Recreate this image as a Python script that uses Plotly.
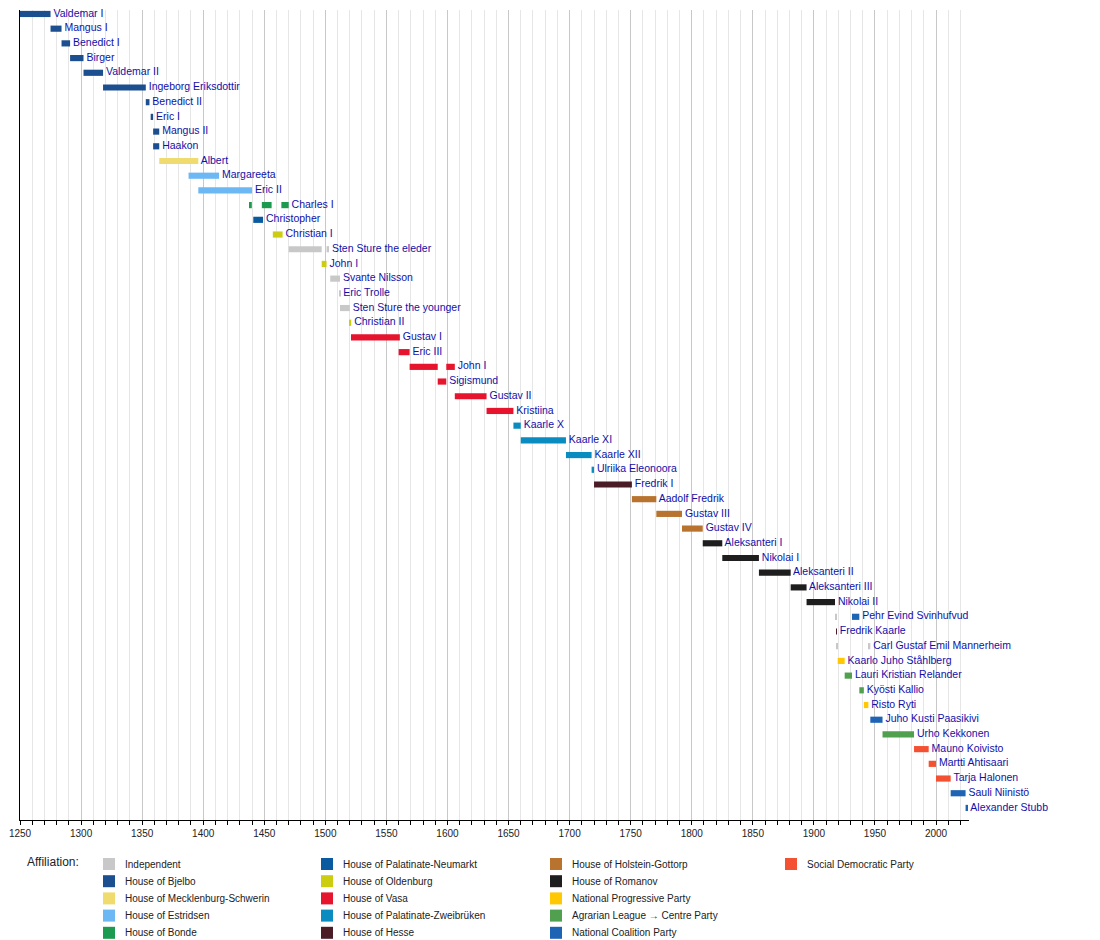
import plotly.graph_objects as go

# rulers, top to bottom
names = [
    "Valdemar I", "Mangus I", "Benedict I", "Birger", "Valdemar II",
    "Ingeborg Eriksdottir", "Benedict II", "Eric I", "Mangus II", "Haakon",
    "Albert", "Margareeta", "Eric II", "Charles I", "Christopher",
    "Christian I", "Sten Sture the eleder", "John I", "Svante Nilsson", "Eric Trolle",
    "Sten Sture the younger", "Christian II", "Gustav I", "Eric III", "John I",
    "Sigismund", "Gustav II", "Kristiina", "Kaarle X", "Kaarle XI",
    "Kaarle XII", "Ulriika Eleonoora", "Fredrik I", "Aadolf Fredrik", "Gustav III",
    "Gustav IV", "Aleksanteri I", "Nikolai I", "Aleksanteri II", "Aleksanteri III",
    "Nikolai II", "Pehr Evind Svinhufvud", "Fredrik Kaarle", "Carl Gustaf Emil Mannerheim",
    "Kaarlo Juho Ståhlberg", "Lauri Kristian Relander", "Kyösti Kallio", "Risto Ryti",
    "Juho Kusti Paasikivi", "Urho Kekkonen", "Mauno Koivisto", "Martti Ahtisaari",
    "Tarja Halonen", "Sauli Niinistö", "Alexander Stubb",
]

# one entry per bar segment
seg_row = [0, 1, 2, 3, 4, 5, 6, 7, 8, 9,
           10, 11, 12, 13, 13, 13, 14, 15, 16, 16,
           17, 18, 19, 20, 21, 22, 23, 24, 24, 25,
           26, 27, 28, 29, 30, 31, 32, 33, 34, 35,
           36, 37, 38, 39, 40, 41, 41, 42, 43, 43,
           44, 45, 46, 47, 48, 49, 50, 51, 52, 53, 54]
seg_start = [1250, 1275, 1284, 1291, 1302, 1318, 1353, 1357, 1359, 1359,
             1364, 1388, 1396, 1437.5, 1448, 1464, 1441, 1457, 1470, 1501,
             1497, 1504, 1511.4, 1512, 1520, 1521, 1560, 1569, 1599, 1592,
             1606, 1632, 1654, 1660, 1697, 1718, 1720, 1751, 1771, 1792,
             1809, 1825, 1855, 1881, 1894, 1918.1, 1931.2, 1918.5, 1918.8, 1944.6,
             1919.5, 1925.2, 1937.2, 1940.9, 1946.2, 1956.2, 1982, 1994, 2000, 2012, 2024.2]
seg_end = [1275, 1284, 1291, 1302, 1318, 1353, 1356, 1359, 1364, 1364,
           1396, 1413, 1440, 1439.8, 1456, 1470, 1449, 1465, 1497, 1503,
           1501, 1512, 1512.3, 1520, 1521.2, 1561, 1569, 1592, 1606, 1599,
           1632, 1654, 1660, 1697, 1718, 1720, 1751, 1771, 1792, 1809,
           1825, 1855, 1881, 1894, 1917.3, 1918.9, 1937.2, 1918.8, 1919.5, 1946.2,
           1925.2, 1931.2, 1940.9, 1944.6, 1956.2, 1982, 1994, 2000, 2012, 2024.2, 2026.2]
seg_aff = [1, 1, 1, 1, 1, 1, 1, 1, 1, 1,
           2, 3, 3, 4, 4, 4, 5, 6, 0, 0,
           6, 0, 0, 0, 6, 7, 7, 7, 7, 7,
           7, 7, 8, 8, 8, 8, 9, 10, 10, 10,
           11, 11, 11, 11, 11, 0, 14, 9, 0, 0,
           12, 13, 13, 12, 14, 13, 15, 15, 15, 14, 14]

affiliations = [
    "Independent", "House of Bjelbo", "House of Mecklenburg-Schwerin", "House of Estridsen",
    "House of Bonde", "House of Palatinate-Neumarkt", "House of Oldenburg", "House of Vasa",
    "House of Palatinate-Zweibrüken", "House of Hesse", "House of Holstein-Gottorp",
    "House of Romanov", "National Progressive Party", "Agrarian League → Centre Party",
    "National Coalition Party", "Social Democratic Party",
]
aff_colors = [
    "#c8c8c8", "#1c4f8f", "#f0dc6e", "#6cb8f4",
    "#1b9a50", "#0a5aa0", "#cccc10", "#e6142d",
    "#0a8cc0", "#4a1c26", "#b8742e",
    "#1e1e1e", "#ffc800", "#50a050",
    "#1e64b4", "#f45032",
]

years = list(range(1250, 2001, 50))

fig = go.Figure()

for a, aff in enumerate(affiliations):
    idx = [i for i in range(len(seg_row)) if seg_aff[i] == a]
    fig.add_trace(go.Bar(
        orientation="h",
        y=[seg_row[i] for i in idx],
        base=[seg_start[i] for i in idx],
        x=[seg_end[i] - seg_start[i] for i in idx],
        width=0.42,
        marker=dict(color=aff_colors[a], line=dict(width=0)),
        name=aff, showlegend=False, hoverinfo="skip",
    ))

# name labels right of the last segment of each row
label_x = [max(seg_end[i] for i in range(len(seg_row)) if seg_row[i] == r) for r in range(len(names))]
fig.add_trace(go.Scatter(
    x=label_x, y=list(range(len(names))), text=[" " + n for n in names],
    mode="text", textposition="middle right",
    textfont=dict(family="Liberation Sans, Arial", size=10.5, color="#1010a8"),
    showlegend=False, hoverinfo="skip", cliponaxis=False,
))

# page has an 8px body margin, so the figure is 8px smaller each way
fig.update_layout(
    width=1092, height=932,
    margin=dict(l=12, r=131, t=2, b=120),
    plot_bgcolor="white", paper_bgcolor="white",
    barmode="overlay",
    font=dict(family="Liberation Sans, Arial", size=11, color="#222"),
)
fig.update_xaxes(
    range=[1250, 2027], tickvals=years, ticktext=[str(y) for y in years],
    showgrid=True, gridcolor="#c8c8c8", gridwidth=1,
    ticks="outside", ticklen=4, tickcolor="black",
    showline=True, linecolor="black", linewidth=1, zeroline=False,
    minor=dict(dtick=10, tick0=1250, ticks="outside", ticklen=4, tickcolor="black",
               showgrid=True, gridcolor="#e6e6e6", gridwidth=1),
    tickfont=dict(size=10, color="#222"),
)
fig.update_yaxes(
    range=[54.82, -0.27], showticklabels=False, showgrid=False, zeroline=False,
    showline=True, linecolor="black", linewidth=1, ticks="",
)

# affiliation key below the axis, four columns of five (positions in page pixels)
plot_h = 810.0
plot_w = 949.0
def px_x(p):
    return (p - 20) / plot_w
def px_y(p):
    return (820 - p) / plot_h

fig.add_annotation(x=px_x(25), y=px_y(862), xref="paper", yref="paper", text="Affiliation:",
                   showarrow=False, xanchor="left", yanchor="middle", font=dict(size=12, color="#222"))
col_px = [103, 321, 550, 785]
for a, aff in enumerate(affiliations):
    c = a // 5
    r = a % 5
    cy = 864 + r * 17.2
    fig.add_shape(type="rect", xref="paper", yref="paper",
                  x0=px_x(col_px[c]), x1=px_x(col_px[c] + 12),
                  y0=px_y(cy + 6), y1=px_y(cy - 6),
                  fillcolor=aff_colors[a], line=dict(width=0))
    fig.add_annotation(x=px_x(col_px[c] + 20), y=px_y(cy), xref="paper", yref="paper",
                       text=aff, showarrow=False, xanchor="left", yanchor="middle",
                       font=dict(size=10, color="#222"))

fig.write_html("out.html")
